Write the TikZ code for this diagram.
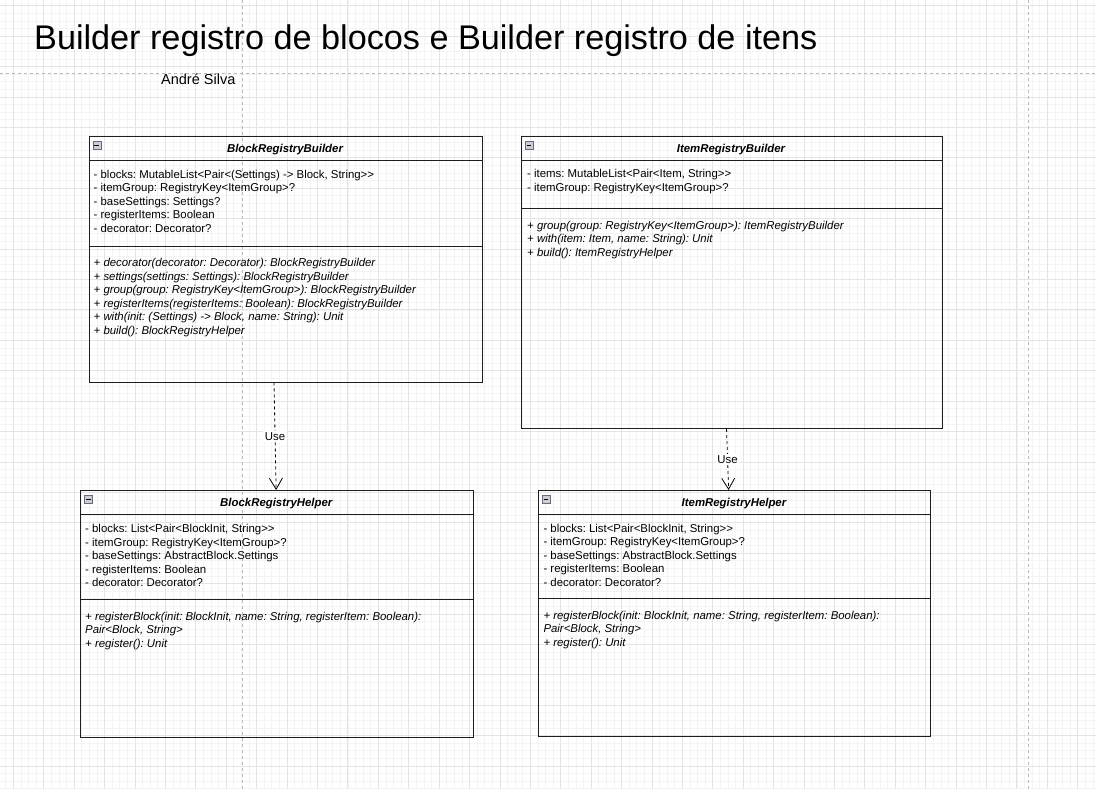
\documentclass[tikz,border=0pt]{standalone}
\usepackage{fontspec}
\setmainfont{Liberation Sans}[Ligatures=TeXOff]
\usetikzlibrary{arrows.meta,positioning,calc}
\definecolor{umlline}{RGB}{30,30,30}
\definecolor{gridmin}{RGB}{244,244,244}
\definecolor{gridmaj}{RGB}{228,228,228}
\definecolor{pagebrk}{RGB}{185,185,185}
\definecolor{iconfill}{RGB}{205,205,212}
\definecolor{iconline}{RGB}{105,105,125}
\newcommand{\umlfont}{\fontsize{11.4}{13.5}\selectfont\frenchspacing}

\begin{document}
\begin{tikzpicture}[x=1pt,y=-1pt,
  cls/.style={draw=umlline,line width=1pt,anchor=north west,inner sep=0pt},
  sep/.style={draw=umlline,line width=1pt},
  cname/.style={font=\umlfont\bfseries\itshape,inner sep=0pt,anchor=base},
  % multi-line nodes: anchored at the baseline of their last line
  attrs/.style={font=\umlfont,align=left,inner sep=0pt,anchor=base west},
  opers/.style={attrs,font=\umlfont\itshape},
  icon/.style={draw=iconline,fill=iconfill,minimum size=8pt,inner sep=0pt,
    anchor=north west,line width=0.5pt},
  dep/.style={draw=black,line width=0.8pt,dash pattern=on 3pt off 3pt,
    -{Straight Barb[length=11pt,width=13pt,line width=0.8pt]}},
  usel/.style={font=\umlfont,fill=white,inner sep=1.5pt}]
\useasboundingbox (0,0) rectangle (1096,789);
% background grid and page breaks
\begin{scope}
\clip (0,0) rectangle (1096,789);
\foreach \i in {0,...,143} \draw[gridmin,line width=0.6pt] ({5.7+\i*7.6025},0) -- ++(0,789);
\foreach \j in {0,...,103} \draw[gridmin,line width=0.6pt] (0,{5.7+\j*7.6025}) -- ++(1096,0);
\foreach \i in {0,...,35} \draw[gridmaj,line width=0.7pt] ({13.3+\i*30.41},0) -- ++(0,789);
\foreach \j in {0,...,25} \draw[gridmaj,line width=0.7pt] (0,{5.7+\j*30.41}) -- ++(1096,0);
\draw[pagebrk,line width=0.7pt,dash pattern=on 3pt off 3pt] (242,0) -- (242,789);
\draw[pagebrk,line width=0.7pt,dash pattern=on 3pt off 3pt] (1028.3,0) -- (1028.3,789);
\draw[pagebrk,line width=0.7pt,dash pattern=on 3pt off 3pt] (0,73) -- (1096,73);
\end{scope}

\node[anchor=base west,font=\fontsize{34.2}{34}\selectfont,inner sep=0pt] (title) at (34,50)
  {Builder registro de blocos e Builder registro de itens};
\node[anchor=base west,font=\fontsize{14.5}{15}\selectfont,inner sep=0pt] (author) at (161,85) {André Silva};

% BlockRegistryBuilder
\node[cls,minimum width=393pt,minimum height=245.5pt] (brb) at (88.5,136) {};
\draw[sep] ([yshift=-25pt]brb.north west) -- ([yshift=-25pt]brb.north east);
\draw[sep] ([yshift=-110pt]brb.north west) -- ([yshift=-110pt]brb.north east);
\node[icon] (brbicon) at ([shift={(4pt,-5pt)}]brb.north west) {};
\draw[line width=1pt] ([xshift=1.8pt]brbicon.west) -- ([xshift=-1.8pt]brbicon.east);
\node[cname] (brbname) at (285,153) {BlockRegistryBuilder};
\node[attrs] (brbattr) at (93.5,232.5) {- blocks: MutableList<Pair<(Settings) -> Block, String>>\\
  - itemGroup: RegistryKey<ItemGroup>?\\ - baseSettings: Settings?\\
  - registerItems: Boolean\\ - decorator: Decorator?};
\node[opers] (brbops) at (93.5,334) {+ decorator(decorator: Decorator): BlockRegistryBuilder\\
  + settings(settings: Settings): BlockRegistryBuilder\\
  + group(group: RegistryKey<ItemGroup>): BlockRegistryBuilder\\
  + registerItems(registerItems: Boolean): BlockRegistryBuilder\\
  + with(init: (Settings) -> Block, name: String): Unit\\
  + build(): BlockRegistryHelper};

% ItemRegistryBuilder
\node[cls,minimum width=421.3pt,minimum height=292pt] (irb) at (520.7,136) {};
\draw[sep] ([yshift=-25pt]irb.north west) -- ([yshift=-25pt]irb.north east);
\draw[sep] ([yshift=-72.3pt]irb.north west) -- ([yshift=-72.3pt]irb.north east);
\node[icon] (irbicon) at ([shift={(4pt,-5pt)}]irb.north west) {};
\draw[line width=1pt] ([xshift=1.8pt]irbicon.west) -- ([xshift=-1.8pt]irbicon.east);
\node[cname] (irbname) at (731,153) {ItemRegistryBuilder};
\node[attrs] (irbattr) at (527,191.5) {- items: MutableList<Pair<Item, String>>\\
  - itemGroup: RegistryKey<ItemGroup>?};
\node[opers] (irbops) at (527,256.5) {+ group(group: RegistryKey<ItemGroup>): ItemRegistryBuilder\\
  + with(item: Item, name: String): Unit\\ + build(): ItemRegistryHelper};

% BlockRegistryHelper
\node[cls,minimum width=392.5pt,minimum height=247pt] (brh) at (80,490) {};
\draw[sep] ([yshift=-24.5pt]brh.north west) -- ([yshift=-24.5pt]brh.north east);
\draw[sep] ([yshift=-109.3pt]brh.north west) -- ([yshift=-109.3pt]brh.north east);
\node[icon] (brhicon) at ([shift={(4pt,-5pt)}]brh.north west) {};
\draw[line width=1pt] ([xshift=1.8pt]brhicon.west) -- ([xshift=-1.8pt]brhicon.east);
\node[cname] (brhname) at (276.3,506.7) {BlockRegistryHelper};
\node[attrs] (brhattr) at (85,586.5) {- blocks: List<Pair<BlockInit, String>>\\
  - itemGroup: RegistryKey<ItemGroup>?\\ - baseSettings: AbstractBlock.Settings\\
  - registerItems: Boolean\\ - decorator: Decorator?};
\node[opers] (brhops) at (85,647) {+ registerBlock(init: BlockInit, name: String, registerItem: Boolean):\\
  Pair<Block, String>\\ + register(): Unit};

% ItemRegistryHelper
\node[cls,minimum width=392.3pt,minimum height=246pt] (irh) at (537.7,490) {};
\draw[sep] ([yshift=-24pt]irh.north west) -- ([yshift=-24pt]irh.north east);
\draw[sep] ([yshift=-108.3pt]irh.north west) -- ([yshift=-108.3pt]irh.north east);
\node[icon] (irhicon) at ([shift={(4pt,-5pt)}]irh.north west) {};
\draw[line width=1pt] ([xshift=1.8pt]irhicon.west) -- ([xshift=-1.8pt]irhicon.east);
\node[cname] (irhname) at (734,506.5) {ItemRegistryHelper};
\node[attrs] (irhattr) at (543.3,586) {- blocks: List<Pair<BlockInit, String>>\\
  - itemGroup: RegistryKey<ItemGroup>?\\ - baseSettings: AbstractBlock.Settings\\
  - registerItems: Boolean\\ - decorator: Decorator?};
\node[opers] (irhops) at (543.3,646.3) {+ registerBlock(init: BlockInit, name: String, registerItem: Boolean):\\
  Pair<Block, String>\\ + register(): Unit};

% dependencies
\draw[dep] ([xshift=-11.5pt]brb.south) -- ([xshift=-0.6pt]brh.north) node[midway,usel] (use1) {Use};
\draw[dep] ([xshift=-5.3pt]irb.south) -- ([xshift=-5.7pt]irh.north) node[midway,usel] (use2) {Use};
\end{tikzpicture}
\end{document}
